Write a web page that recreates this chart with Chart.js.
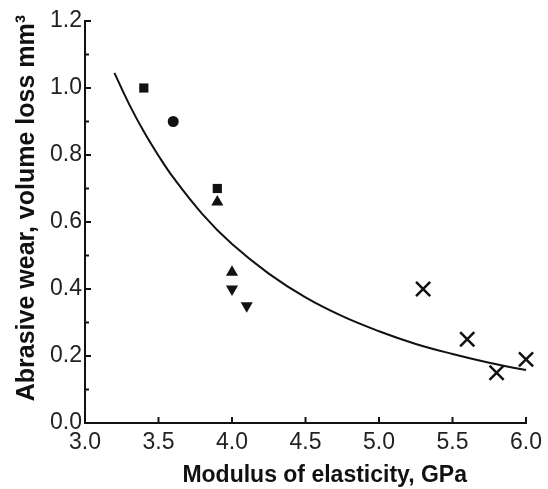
<!DOCTYPE html>
<html>
<head>
<meta charset="utf-8">
<script src="https://cdn.jsdelivr.net/npm/chart.js@4/dist/chart.umd.min.js"></script>
<style>
  html, body { margin: 0; padding: 0; background: #fff; }
  #wrap { width: 548px; height: 489px; }
</style>
</head>
<body>
<div id="wrap"><canvas id="chart"></canvas></div>
<script>
// measured points, grouped by marker
var squareX = [3.4, 3.9];
var squareY = [1.0, 0.70];
var circleX = [3.6];
var circleY = [0.90];
var upX = [3.9, 4.0];
var upY = [0.66, 0.45];
var downX = [4.0, 4.1];
var downY = [0.40, 0.35];
var crossX = [5.3, 5.6, 5.8, 6.0];
var crossY = [0.40, 0.25, 0.15, 0.19];

// fitted curve
var fitX = [3.2, 3.3, 3.4, 3.5, 3.6, 3.8, 4.0, 4.25, 4.5, 4.75, 5.0, 5.25, 5.5, 5.75, 6.0, 6.05];
var fitY = [1.045, 0.952, 0.870, 0.798, 0.733, 0.623, 0.534, 0.446, 0.375, 0.319, 0.274, 0.236, 0.206, 0.180, 0.158, 0.155];

var xMin = 3.0, xMax = 6.0, xStep = 0.5;
var yMin = 0.0, yMax = 1.2, yStep = 0.1;

function pts(xs, ys) {
	return xs.map(function(x, i) { return {x: x, y: ys[i]}; });
}

var ink = '#111';

// ticks drawn inward from the axis lines
var innerTicks = {
	id: 'innerTicks',
	afterDraw: function(chart) {
		var ctx = chart.ctx;
		var xs = chart.scales.x, ys = chart.scales.y;
		var area = chart.chartArea;
		ctx.save();
		ctx.strokeStyle = ink;
		ctx.lineWidth = 2;
		xs.ticks.forEach(function(t) {
			var px = xs.getPixelForValue(t.value);
			ctx.beginPath();
			ctx.moveTo(px, area.bottom);
			ctx.lineTo(px, area.bottom - 6);
			ctx.stroke();
		});
		ys.ticks.forEach(function(t, i) {
			var py = ys.getPixelForValue(t.value);
			ctx.beginPath();
			ctx.moveTo(area.left, py);
			ctx.lineTo(area.left + (i % 2 ? 4 : 6), py);
			ctx.stroke();
		});
		ctx.restore();
	}
};

var ctx = document.getElementById('chart').getContext('2d');
var chart = new Chart(ctx, {
	type: 'scatter',
	data: {
		datasets: [{
			label: 'fit',
			type: 'line',
			data: pts(fitX, fitY),
			borderColor: ink,
			borderWidth: 2,
			pointRadius: 0,
			tension: 0.4,
			clip: false
		},
		{
			label: 'square',
			data: pts(squareX, squareY),
			pointStyle: 'rect',
			pointRadius: 6.5,
			backgroundColor: ink,
			borderColor: ink,
			borderWidth: 0
		},
		{
			label: 'circle',
			data: pts(circleX, circleY),
			pointStyle: 'circle',
			pointRadius: 5.5,
			backgroundColor: ink,
			borderColor: ink,
			borderWidth: 0
		},
		{
			label: 'up',
			data: pts(upX, upY),
			pointStyle: 'triangle',
			pointRadius: 7,
			backgroundColor: ink,
			borderColor: ink,
			borderWidth: 0
		},
		{
			label: 'down',
			data: pts(downX, downY),
			pointStyle: 'triangle',
			pointRotation: 180,
			pointRadius: 7,
			backgroundColor: ink,
			borderColor: ink,
			borderWidth: 0
		},
		{
			label: 'cross',
			data: pts(crossX, crossY),
			pointStyle: 'crossRot',
			pointRadius: 10,
			borderColor: ink,
			borderWidth: 2.5,
			clip: false
		}]
	},
	options: {
		responsive: true,
		maintainAspectRatio: false,
		animation: false,
		layout: { padding: { left: 0, right: 20, top: 21, bottom: 0 } },
		plugins: {
			legend: { display: false },
			tooltip: { enabled: false }
		},
		scales: {
			x: {
				type: 'linear',
				min: xMin,
				max: xMax,
				grid: { display: false, drawTicks: false },
				border: { display: true, color: ink, width: 2 },
				ticks: {
					stepSize: xStep,
					padding: 6,
					color: '#222',
					font: { family: 'Liberation Sans', size: 23 },
					callback: function(v) { return v.toFixed(1); }
				},
				title: {
					display: true,
					text: '      Modulus of elasticity, GPa',
					color: ink,
					font: { family: 'Liberation Sans', size: 23, weight: 'bold' },
					padding: { top: 0, bottom: 0 }
				},
				afterFit: function(s) { s.height = 66; }
			},
			y: {
				type: 'linear',
				min: yMin,
				max: yMax,
				grid: { display: false, drawTicks: false },
				border: { display: true, color: ink, width: 2 },
				ticks: {
					stepSize: yStep,
					padding: 3,
					color: '#222',
					font: { family: 'Liberation Sans', size: 23 },
					callback: function(v, i) { return i % 2 ? '' : v.toFixed(1); }
				},
				title: {
					display: true,
					text: '    Abrasive wear, volume loss mm\u00b3',
					color: ink,
					font: { family: 'Liberation Sans', size: 25, weight: 'bold' },
					padding: { top: 12, bottom: 0 }
				},
				afterFit: function(s) { s.width = 85; }
			}
		}
	},
	plugins: [innerTicks]
});
</script>
</body>
</html>
